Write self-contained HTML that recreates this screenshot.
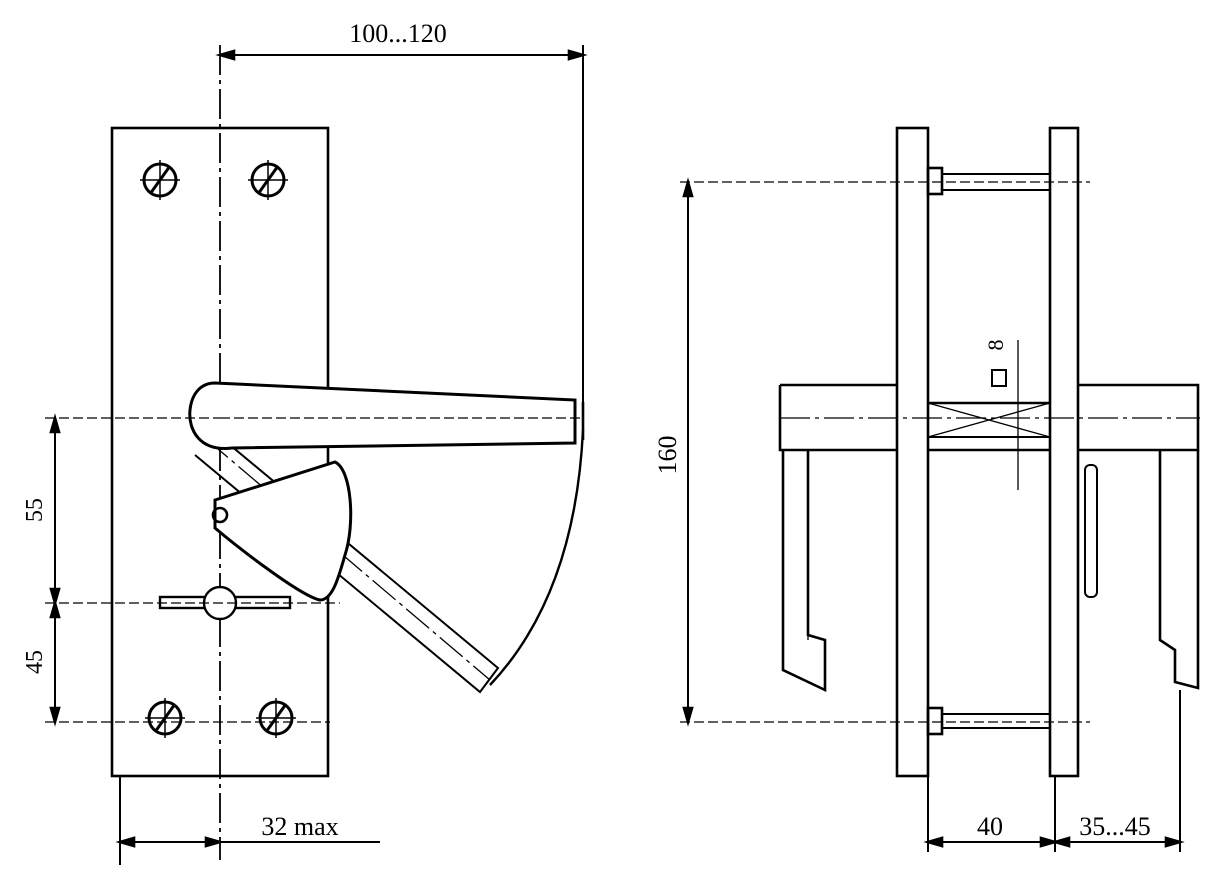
<!DOCTYPE html>
<html><head><meta charset="utf-8"><style>
html,body{margin:0;padding:0;background:#fff;}
svg{display:block}
text{font-family:"Liberation Serif",serif;fill:#000}
</style></head><body>
<svg width="1226" height="879" viewBox="0 0 1226 879" xmlns="http://www.w3.org/2000/svg" fill="none" stroke="#000" stroke-width="2.6">
<!-- LEFT VIEW -->
<rect x="112" y="128" width="216" height="648"/>
<line x1="220" y1="45" x2="220" y2="860" stroke-width="1.8" stroke-dasharray="30 5 4 5"/>
<line x1="583" y1="45" x2="583" y2="420" stroke-width="2"/>
<line x1="220" y1="55" x2="583" y2="55" stroke-width="2"/>
<path d="M220 55 l14 -4 v8z M583 55 l-14 -4 v8z" fill="#000"/>
<text x="398" y="42" font-size="26" text-anchor="middle" stroke="none">100...120</text>
<!-- screws -->
<g stroke-width="3">
<circle cx="160" cy="180" r="16"/><line x1="150" y1="194" x2="170" y2="166"/><line x1="140" y1="180" x2="180" y2="180" stroke-width="1.5"/><line x1="160" y1="160" x2="160" y2="200" stroke-width="1.5"/>
<circle cx="268" cy="180" r="16"/><line x1="258" y1="194" x2="278" y2="166"/><line x1="248" y1="180" x2="288" y2="180" stroke-width="1.5"/><line x1="268" y1="160" x2="268" y2="200" stroke-width="1.5"/>
<circle cx="165" cy="718" r="16"/><line x1="155" y1="732" x2="175" y2="704"/><line x1="145" y1="718" x2="185" y2="718" stroke-width="1.5"/><line x1="165" y1="698" x2="165" y2="738" stroke-width="1.5"/>
<circle cx="276" cy="718" r="16"/><line x1="266" y1="732" x2="286" y2="704"/><line x1="256" y1="718" x2="296" y2="718" stroke-width="1.5"/><line x1="276" y1="698" x2="276" y2="738" stroke-width="1.5"/>
</g>
<!-- diagonal rotated handle -->
<path d="M200 420 L498 668 L480 692 L195 455" stroke-width="2"/>
<line x1="205" y1="438" x2="490" y2="680" stroke-width="1.3" stroke-dasharray="30 5 4 5"/>
<!-- handle -->
<path d="M215 383 L575 400 L575 443 L232 448 C200 452 188 430 190 410 C192 392 202 383 215 383Z" fill="#fff" stroke-width="3"/>
<line x1="220" y1="418" x2="580" y2="418" stroke-width="1.2" stroke-dasharray="10 4"/>
<line x1="575" y1="400" x2="575" y2="443"/><line x1="583" y1="402" x2="583" y2="440"/>
<!-- arc -->
<path d="M583 430 Q575 595 490 685" stroke-width="2.4"/>
<!-- cam -->
<path d="M215 500 L335 462 C352 470 355 525 345 555 C338 580 332 600 320 600 C300 596 235 545 215 528 Z" fill="#fff" stroke-width="3"/>
<circle cx="220" cy="515" r="7"/>
<!-- keyhole -->
<rect x="160" y="597" width="130" height="11" stroke-width="2.4"/>
<circle cx="220" cy="603" r="16" fill="#fff" stroke-width="2.4"/>
<!-- horizontal dims -->
<line x1="45" y1="418" x2="220" y2="418" stroke-width="1.2" stroke-dasharray="10 4"/>
<line x1="45" y1="603" x2="340" y2="603" stroke-width="1.2" stroke-dasharray="10 4"/>
<line x1="45" y1="722" x2="330" y2="722" stroke-width="1.2" stroke-dasharray="10 4"/>
<line x1="55" y1="418" x2="55" y2="722" stroke-width="2"/>
<path d="M55 418 l-4 14 h8z M55 603 l-4 -14 h8z M55 603 l-4 14 h8z M55 722 l-4 -14 h8z" fill="#000"/>
<text transform="translate(42,510) rotate(-90)" font-size="24" text-anchor="middle" stroke="none">55</text>
<text transform="translate(42,662) rotate(-90)" font-size="24" text-anchor="middle" stroke="none">45</text>
<line x1="120" y1="776" x2="120" y2="865" stroke-width="2"/>
<line x1="120" y1="842" x2="380" y2="842" stroke-width="2"/>
<path d="M120 842 l14 -4 v8z M220 842 l-14 -4 v8z" fill="#000"/>
<text x="300" y="835" font-size="26" text-anchor="middle" stroke="none">32 max</text>

<!-- RIGHT VIEW -->
<rect x="897" y="128" width="31" height="648" fill="#fff"/>
<rect x="1050" y="128" width="28" height="648" fill="#fff"/>
<line x1="680" y1="182" x2="1090" y2="182" stroke-width="1.2" stroke-dasharray="10 4"/>
<line x1="680" y1="722" x2="1090" y2="722" stroke-width="1.2" stroke-dasharray="10 4"/>
<line x1="688" y1="182" x2="688" y2="722" stroke-width="2"/>
<path d="M688 182 l-4 14 h8z M688 722 l-4 -14 h8z" fill="#000"/>
<text transform="translate(676,455) rotate(-90)" font-size="26" text-anchor="middle" stroke="none">160</text>
<!-- screws -->
<rect x="928" y="168" width="14" height="26"/><rect x="942" y="174" width="108" height="16" stroke-width="2"/>
<rect x="928" y="708" width="14" height="26"/><rect x="942" y="714" width="108" height="14" stroke-width="2"/>
<!-- spindle bar -->
<path d="M780 385 H897 M928 403 H1050 M1078 385 H1198 V450 H1078 M1050 450 H928 M897 450 H780 V385"/>
<line x1="780" y1="418" x2="1200" y2="418" stroke-width="1.3" stroke-dasharray="30 5 4 5"/>
<path d="M928 403 L1050 437 M1050 403 L928 437" stroke-width="1.3"/>
<line x1="928" y1="437" x2="1050" y2="437" stroke-width="2"/>
<line x1="1018" y1="340" x2="1018" y2="490" stroke-width="1.3"/>
<text transform="translate(1003,345) rotate(-90)" font-size="22" text-anchor="middle" stroke="none">8</text>
<rect x="992" y="370" width="14" height="16" stroke-width="2"/>
<!-- handles -->
<path d="M783 450 V670 L825 690 V640 L808 635 V450" stroke-width="2.6"/>
<path d="M1160 450 V640 L1175 650 V682 L1198 688 V450" stroke-width="2.6"/>
<rect x="1085" y="465" width="12" height="132" rx="5" stroke-width="2"/>
<line x1="808" y1="450" x2="808" y2="640" stroke-width="1.3" stroke-dasharray="30 5 4 5"/>
<!-- bottom dims -->
<line x1="928" y1="776" x2="928" y2="852" stroke-width="2"/>
<line x1="1055" y1="776" x2="1055" y2="852" stroke-width="2"/>
<line x1="1180" y1="690" x2="1180" y2="852" stroke-width="2"/>
<line x1="928" y1="842" x2="1180" y2="842" stroke-width="2"/>
<path d="M928 842 l14 -4 v8z M1055 842 l-14 -4 v8z M1055 842 l14 -4 v8z M1180 842 l-14 -4 v8z" fill="#000"/>
<text x="990" y="835" font-size="26" text-anchor="middle" stroke="none">40</text>
<text x="1115" y="835" font-size="26" text-anchor="middle" stroke="none">35...45</text>
</svg>
</body></html>
